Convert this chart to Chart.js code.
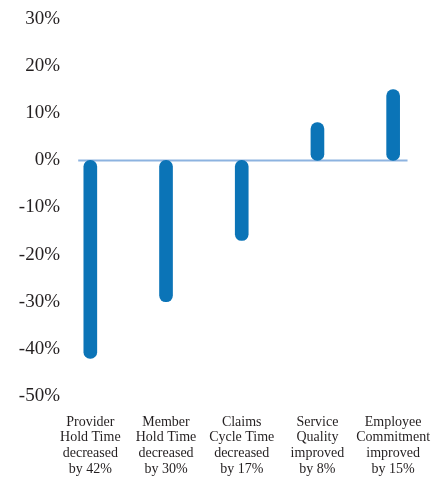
<!DOCTYPE html>
<html>
<head>
<meta charset="utf-8">
<script src="https://cdn.jsdelivr.net/npm/chart.js@4"></script>
<style>
  html, body { margin: 0; padding: 0; background: #fff; }
  #wrap { width: 431px; height: 481px; }
</style>
</head>
<body>
<div id="wrap"><canvas id="chart" width="431" height="481"></canvas></div>
<script>
// data
const categories = [
  ['Provider', 'Hold Time', 'decreased', 'by 42%'],
  ['Member', 'Hold Time', 'decreased', 'by 30%'],
  ['Claims', 'Cycle Time', 'decreased', 'by 17%'],
  ['Service', 'Quality', 'improved', 'by 8%'],
  ['Employee', 'Commitment', 'improved', 'by 15%']
];
const changes = [-42, -30, -17, 8, 15];
const yTicks = [30, 20, 10, 0, -10, -20, -30, -40, -50];

const barBlue = '#0b74b7';
const zeroBlue = '#8db3e0';
const textColor = '#231f20';

// light blue zero line, not full width
const zeroLine = {
  id: 'zeroLine',
  beforeDatasetsDraw(chart) {
    const { ctx, scales: { x, y } } = chart;
    const x0 = x.getPixelForValue(-0.16);
    const x1 = x.getPixelForValue(categories.length - 1 + 0.19);
    const yy = y.getPixelForValue(0);
    ctx.save();
    ctx.strokeStyle = zeroBlue;
    ctx.lineWidth = 2;
    ctx.beginPath();
    ctx.moveTo(x0, yy);
    ctx.lineTo(x1, yy);
    ctx.stroke();
    ctx.restore();
  }
};

const ctx = document.getElementById('chart').getContext('2d');
new Chart(ctx, {
  type: 'bar',
  data: {
    datasets: [{
      data: changes.map((v, i) => ({ x: i, y: v })),
      backgroundColor: barBlue,
      barThickness: 13,
      borderRadius: 7,
      borderSkipped: false
    }]
  },
  options: {
    responsive: false,
    animation: false,
    layout: { padding: { top: 19, right: 0, bottom: 0, left: 0 } },
    plugins: {
      legend: { display: false },
      tooltip: { enabled: false }
    },
    scales: {
      x: {
        type: 'linear',
        offset: false,
        min: -0.374,
        max: 4.5,
        afterBuildTicks(scale) { scale.ticks = categories.map((c, i) => ({ value: i })); },
        afterFit(scale) {
          scale.height = 85;
          scale.paddingLeft = 0;
          scale.paddingRight = 0;
        },
        grid: { display: false, drawTicks: false },
        border: { display: false },
        ticks: {
          color: textColor,
          font: { family: 'Liberation Serif', size: 14, lineHeight: 1.12 },
          padding: 18,
          maxRotation: 0,
          autoSkip: false,
          callback: v => categories[v]
        }
      },
      y: {
        min: -50,
        max: 30,
        afterFit(scale) { scale.width = 62; },
        afterBuildTicks(scale) { scale.ticks = yTicks.map(v => ({ value: v })); },
        grid: { display: false, drawTicks: false },
        border: { display: false },
        ticks: {
          color: textColor,
          font: { family: 'Liberation Serif', size: 19 },
          padding: 2,
          callback: v => v + '%'
        }
      }
    }
  },
  plugins: [zeroLine]
});
</script>
</body>
</html>
